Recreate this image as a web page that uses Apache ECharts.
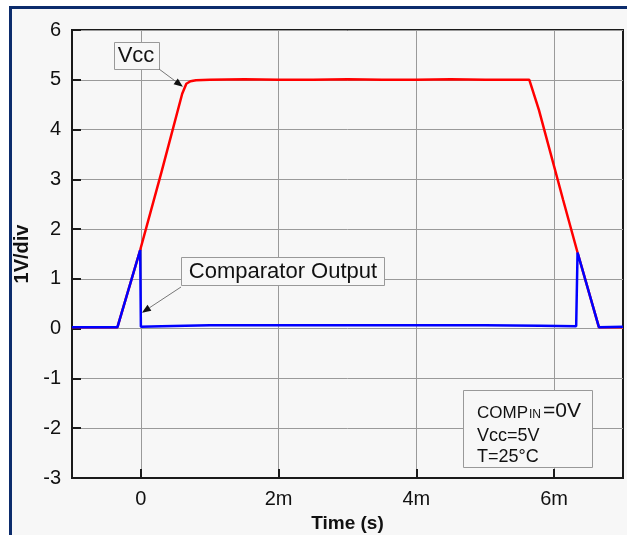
<!DOCTYPE html>
<html><head><meta charset="utf-8">
<script src="https://cdn.jsdelivr.net/npm/echarts@6/dist/echarts.min.js"></script>
<style>html,body{margin:0;padding:0;background:#fff}#c{width:627px;height:535px}</style>
</head><body><div id="c"></div>
<script>
// ---- data (time in ms, voltage in V) ----
const vccTime = [-1, -0.6, -0.34, -0.01, 0.3, 0.6, 0.66, 0.72, 0.8, 1.0, 1.5, 2.0, 2.5, 3.0, 3.5, 4.0, 4.5, 5.0, 5.4, 5.64, 5.78, 6.13, 6.34, 6.65, 7];
const vccVolt = [0.03, 0.03, 0.03, 1.58, 3.15, 4.72, 4.92, 4.97, 4.99, 5.0, 5.01, 5.0, 5.0, 5.01, 5.0, 5.0, 5.01, 5.0, 5.0, 5.0, 4.39, 2.59, 1.53, 0.03, 0.03];
const compTime = [-1, -0.6, -0.34, -0.01, 0.0, 0.3, 1.0, 2.0, 3.0, 4.0, 5.0, 5.8, 6.32, 6.34, 6.65, 7];
const compVolt = [0.03, 0.03, 0.03, 1.58, 0.04, 0.05, 0.07, 0.07, 0.07, 0.07, 0.07, 0.06, 0.05, 1.53, 0.03, 0.04];
const xTickValues = [0, 2, 4, 6];
const xTickLabels = ['0', '2m', '4m', '6m'];
const yMin = -3, yMax = 6;
const xMin = -1, xMax = 7;
const vccLabel = 'Vcc';
const compLabel = 'Comparator Output';

const FONT = 'Liberation Sans, Arial, sans-serif';
const pair = (ts, vs) => ts.map((t, i) => [t, vs[i]]);

const chart = echarts.init(document.getElementById('c'), null, {renderer: 'canvas'});
const baseOption = {
  backgroundColor: '#ffffff',
  animation: false,
  grid: {left: 72, right: 4, top: 30, bottom: 57, outerBoundsMode: 'none', containLabel: false,
    show: true, backgroundColor: '#f7f7f7', borderColor: '#1a1a1a', borderWidth: 2},
  xAxis: {
    type: 'value', min: xMin, max: xMax,
    name: 'Time (s)', nameLocation: 'middle', nameGap: 35,
    nameTextStyle: {fontFamily: FONT, fontSize: 19, fontWeight: 'bold', color: '#111'},
    axisLine: {show: true, onZero: false, lineStyle: {color: '#1a1a1a', width: 2}},
    axisTick: {show: true, inside: true, length: 9, customValues: xTickValues, lineStyle: {color: '#1a1a1a', width: 2}},
    axisLabel: {customValues: xTickValues, fontFamily: FONT, fontSize: 20, color: '#111', margin: 11,
      formatter: v => xTickLabels[xTickValues.indexOf(v)] ?? ''},
    splitLine: {show: true, lineStyle: {color: '#9a9a9a', width: 1}}
  },
  yAxis: {
    type: 'value', min: yMin, max: yMax, interval: 1,
    name: '1V/div', nameLocation: 'middle', nameGap: 26,
    nameTextStyle: {fontFamily: FONT, fontSize: 20, fontWeight: 'bold', color: '#111'},
    axisLine: {show: true, onZero: false, lineStyle: {color: '#1a1a1a', width: 2}},
    axisTick: {show: true, inside: true, length: 9, lineStyle: {color: '#1a1a1a', width: 2}},
    axisLabel: {fontFamily: FONT, fontSize: 20, color: '#111', margin: 11},
    splitLine: {show: true, lineStyle: {color: '#9a9a9a', width: 1}}
  },
  series: [
    {type: 'line', name: 'Vcc', data: pair(vccTime, vccVolt), showSymbol: false, symbol: 'none',
      lineStyle: {color: '#ff0000', width: 2.5}, z: 3},
    {type: 'line', name: 'Comp', data: pair(compTime, compVolt), showSymbol: false, symbol: 'none',
      lineStyle: {color: '#0000ff', width: 2.5}, z: 4}
  ]
};
chart.setOption(baseOption);

function arrow(from, tip) {
  const dx = tip[0] - from[0], dy = tip[1] - from[1];
  const L = Math.hypot(dx, dy), ux = dx / L, uy = dy / L;
  const hl = 9, hw = 3.5;
  const bx = tip[0] - ux * hl, by = tip[1] - uy * hl;
  return [
    {type: 'line', shape: {x1: from[0], y1: from[1], x2: bx, y2: by}, style: {stroke: '#777', lineWidth: 1}, z: 50},
    {type: 'polygon', shape: {points: [tip, [bx - uy * hw, by + ux * hw], [bx + uy * hw, by - ux * hw]]}, style: {fill: '#111'}, z: 50}
  ];
}

const vccTip = chart.convertToPixel({gridIndex: 0}, [0.61, 4.86]);
const compTip = chart.convertToPixel({gridIndex: 0}, [0.015, 0.32]);

chart.setOption({
  graphic: [
    {type: 'rect', shape: {x: 10.5, y: 7.5, width: 700, height: 700}, style: {fill: '#f7f7f7', stroke: '#0c2c6c', lineWidth: 3}, z: -100, silent: true},
    // Vcc label
    {type: 'rect', shape: {x: 114.5, y: 42.5, width: 45, height: 27}, style: {fill: '#f7f7f7', stroke: '#999', lineWidth: 1}, z: 50},
    {type: 'text', x: 136, y: 56, style: {text: vccLabel, font: '22px ' + FONT, fill: '#111', align: 'center', verticalAlign: 'middle'}, z: 51},
    ...arrow([159, 69], vccTip),
    // Comparator label
    {type: 'rect', shape: {x: 181.5, y: 257.5, width: 203, height: 28}, style: {fill: '#f7f7f7', stroke: '#999', lineWidth: 1}, z: 50},
    {type: 'text', x: 283, y: 272, style: {text: compLabel, font: '22px ' + FONT, fill: '#111', align: 'center', verticalAlign: 'middle'}, z: 51},
    ...arrow([181, 287], compTip),
    // conditions box
    {type: 'rect', shape: {x: 463.5, y: 390.5, width: 129, height: 77}, style: {fill: '#f7f7f7', stroke: '#999', lineWidth: 1}, z: 50},
    {type: 'text', x: 477, y: 422, style: {
      text: '{a|COMP}{b|IN}{c|=0V}', fill: '#111', verticalAlign: 'bottom',
      rich: {
        a: {fontFamily: FONT, fontSize: 17, lineHeight: 22, verticalAlign: 'bottom', fill: '#111'},
        b: {fontFamily: FONT, fontSize: 12, lineHeight: 22, verticalAlign: 'bottom', fill: '#111', padding: [0, 2, 1, 1]},
        c: {fontFamily: FONT, fontSize: 21, lineHeight: 22, verticalAlign: 'bottom', fill: '#111'}
      }}, z: 51},
    {type: 'text', x: 477, y: 436, style: {text: 'Vcc=5V', font: '18px ' + FONT, fill: '#111', verticalAlign: 'middle'}, z: 51},
    {type: 'text', x: 477, y: 457, style: {text: 'T=25°C', font: '18px ' + FONT, fill: '#111', verticalAlign: 'middle'}, z: 51}
  ]
});
</script></body></html>
